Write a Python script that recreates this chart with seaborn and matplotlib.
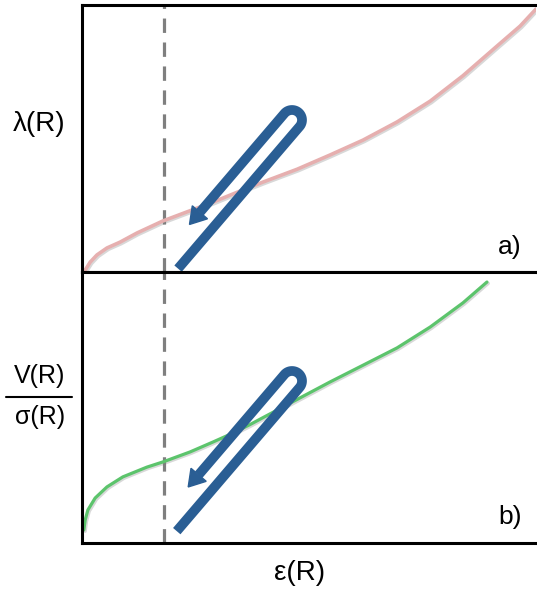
import numpy as np
import pandas as pd
import seaborn as sns
import matplotlib.pyplot as plt
import matplotlib.patheffects as pe
from matplotlib.transforms import Affine2D
from matplotlib.patches import Polygon

# panel a) lambda(R) vs eps(R), arbitrary units 0..100
eps_a = [0.7, 1.8, 3.3, 5.5, 8.4, 12.1, 17.8, 23.1, 28.9, 34.8, 39.9, 47.4,
         54.6, 61.9, 69.4, 76.7, 83.9, 91.4, 96.5, 100.0]
lam_a = [0.7, 3.7, 6.4, 9.0, 11.2, 14.6, 19.1, 22.5, 26.2, 30.3, 33.7, 38.5,
         43.8, 49.4, 56.2, 64.0, 73.5, 84.6, 92.1, 98.5]

# panel b) V(R)/sigma(R) vs eps(R)
eps_b = [0.4, 0.7, 1.3, 2.9, 5.5, 9.0, 14.3, 17.8, 23.8, 28.9, 33.3, 37.0,
         47.4, 54.6, 61.9, 69.4, 76.7, 83.9, 89.2]
vs_b = [4.8, 8.5, 12.2, 16.6, 20.7, 24.4, 28.0, 29.9, 33.6, 37.3, 40.6, 43.7,
        53.0, 59.4, 65.6, 72.0, 79.7, 88.6, 96.3]

eps_cut = 18.1

df_a = pd.DataFrame({"eps": eps_a, "val": lam_a})
df_b = pd.DataFrame({"eps": eps_b, "val": vs_b})

sns.set_style("white")
plt.rcParams['font.family'] = ['Liberation Sans', 'DejaVu Sans']

W, H = 537, 592
fig = plt.figure(figsize=(W / 100, H / 100), dpi=100)
ax_a = fig.add_axes([82 / W, (H - 272) / H, 454 / W, 267 / H])
ax_b = fig.add_axes([82 / W, 49 / H, 454 / W, 271 / H])

shadow = [pe.SimpleLineShadow(offset=(1, -1), alpha=0.3, shadow_color='gray'), pe.Normal()]
sns.lineplot(data=df_a, x="eps", y="val", ax=ax_a, color='#E6AFAF', lw=2.6,
             path_effects=shadow, solid_joinstyle='round')
sns.lineplot(data=df_b, x="eps", y="val", ax=ax_b, color='#5CC46C', lw=2.3,
             path_effects=shadow, solid_joinstyle='round')

blue = '#2A5E94'


def hairpin(ax, hpx, cx, cy, tail_len, tip_len, r=10):
    # geometry in pixels relative to the axes corner
    tr = Affine2D().scale(1 / 454, 1 / hpx) + ax.transAxes
    d = np.array([0.65, 0.76])
    d = d / np.linalg.norm(d)
    n = np.array([d[1], -d[0]])
    c = np.array([cx, cy])
    p0 = c + r * n - tail_len * d
    p1 = c + r * n
    th0 = np.arctan2(n[1], n[0])
    th = np.linspace(th0, th0 + np.pi, 40)
    arc = np.column_stack([cx + r * np.cos(th), cy + r * np.sin(th)])
    head_h, head_w = 16, 10
    tip = c - r * n - tip_len * d
    base = tip + head_h * d
    pts = np.vstack([p0, p1, arc, base])
    ax.plot(pts[:, 0], pts[:, 1], color=blue, lw=7.0, solid_capstyle='butt',
            solid_joinstyle='round', transform=tr, clip_on=False, zorder=5)
    head = np.vstack([tip, base + head_w * n, base - head_w * n])
    ax.add_patch(Polygon(head, closed=True, color=blue, transform=tr,
                         clip_on=False, zorder=5))


hairpin(ax_a, 267, 210, 152, 187, 146)
hairpin(ax_b, 271, 210, 162, 189, 148)

for ax in (ax_a, ax_b):
    ax.set_xlim(0, 100)
    ax.set_ylim(0, 100)
    ax.axvline(eps_cut, color='#7F7F7F', lw=2.3, ls=(0, (4.5, 3)), zorder=1)
    ax.set_xticks([])
    ax.set_yticks([])
    ax.set_xlabel("")
    ax.set_ylabel("")
    for side in ("left", "top", "bottom"):
        ax.spines[side].set_color('black')
        ax.spines[side].set_linewidth(2.2)
    ax.spines["right"].set_visible(False)


def ftext(x, y, s, **kw):
    fig.text(x / W, 1 - y / H, s, ha='center', va='center', color='black', **kw)


ftext(39, 124, "λ(R)", fontsize=20)
ftext(40, 376, "V(R)", fontsize=18)
ftext(40, 417, "σ(R)", fontsize=18)
fig.add_artist(plt.Line2D([6 / W, 72 / W], [1 - 397 / H, 1 - 397 / H],
                          color='black', lw=1.5))
ftext(510, 247, "a)", fontsize=19)
ftext(510, 517, "b)", fontsize=19)
ftext(300, 573, "ε(R)", fontsize=20)

fig.savefig("out.png", dpi=100)
